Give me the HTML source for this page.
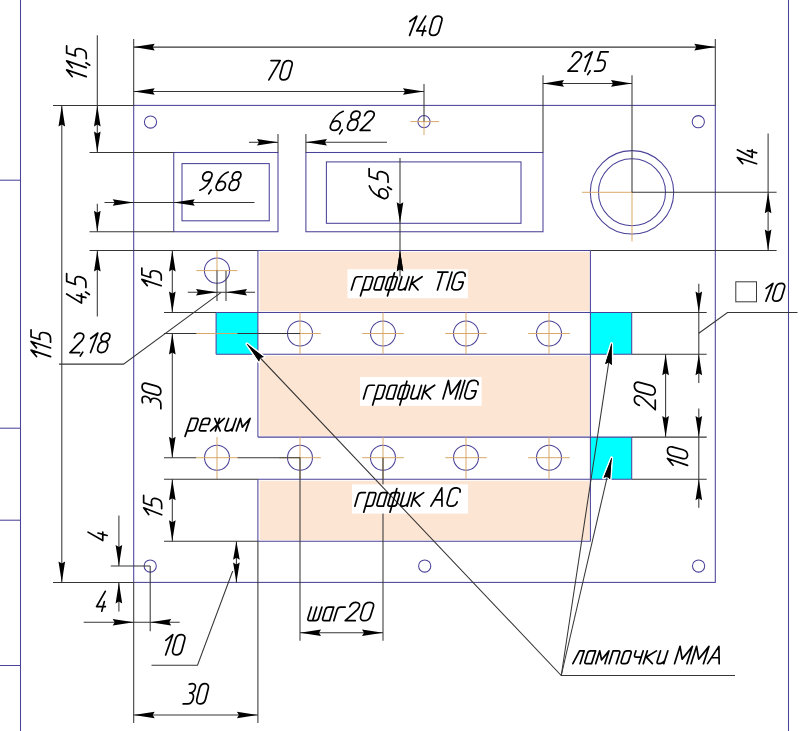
<!DOCTYPE html>
<html><head><meta charset="utf-8"><style>
html,body{margin:0;padding:0;background:#fff;}
svg{display:block;}
</style></head><body>
<svg width="800" height="731" viewBox="0 0 800 731">
<rect x="0" y="0" width="800" height="731" fill="#fff"/>
<rect x="259.70" y="252.00" width="329.80" height="59.30" fill="#fde5d3"/>
<rect x="259.70" y="355.80" width="329.80" height="80.10" fill="#fde5d3"/>
<rect x="259.70" y="480.80" width="329.80" height="59.20" fill="#fde5d3"/>
<rect x="216.10" y="312.50" width="41.80" height="41.70" fill="#00ffff"/>
<rect x="590.40" y="312.50" width="41.30" height="41.70" fill="#00ffff"/>
<rect x="590.40" y="437.10" width="41.30" height="42.10" fill="#00ffff"/>
<line x1="20.5" y1="0" x2="20.5" y2="731" stroke="#4a4298" stroke-width="1.05"/>
<line x1="0" y1="180.2" x2="20.5" y2="180.2" stroke="#4a4298" stroke-width="1.05"/>
<line x1="0" y1="428.2" x2="20.5" y2="428.2" stroke="#4a4298" stroke-width="1.05"/>
<line x1="0" y1="520.2" x2="20.5" y2="520.2" stroke="#4a4298" stroke-width="1.05"/>
<line x1="0" y1="665.5" x2="20.5" y2="665.5" stroke="#4a4298" stroke-width="1.05"/>
<line x1="788.5" y1="0" x2="788.5" y2="731" stroke="#4a4298" stroke-width="1.05"/>
<rect x="133.70" y="105.40" width="581.60" height="477.00" fill="none" stroke="#4a4298" stroke-width="1.05"/>
<circle cx="150.5" cy="122" r="6.1" fill="none" stroke="#4a4298" stroke-width="1.05"/>
<circle cx="424" cy="121.6" r="6.1" fill="none" stroke="#4a4298" stroke-width="1.05"/>
<circle cx="698.3" cy="121.7" r="6.1" fill="none" stroke="#4a4298" stroke-width="1.05"/>
<circle cx="150.2" cy="566" r="6.1" fill="none" stroke="#4a4298" stroke-width="1.05"/>
<circle cx="424.7" cy="566" r="6.1" fill="none" stroke="#4a4298" stroke-width="1.05"/>
<circle cx="698.6" cy="566" r="6.1" fill="none" stroke="#4a4298" stroke-width="1.05"/>
<rect x="173.75" y="152.50" width="104.25" height="79.25" fill="none" stroke="#4a4298" stroke-width="1.05"/>
<rect x="182.00" y="163.60" width="87.25" height="57.20" fill="none" stroke="#4a4298" stroke-width="1.05"/>
<rect x="305.90" y="152.50" width="237.10" height="79.25" fill="none" stroke="#4a4298" stroke-width="1.05"/>
<rect x="326.40" y="161.90" width="194.60" height="61.40" fill="none" stroke="#4a4298" stroke-width="1.05"/>
<circle cx="632" cy="192.3" r="41.7" fill="none" stroke="#4a4298" stroke-width="1.05"/>
<circle cx="632" cy="192.3" r="33.5" fill="none" stroke="#4a4298" stroke-width="1.05"/>
<line x1="257.9" y1="250.4" x2="257.9" y2="437.1" stroke="#4a4298" stroke-width="1.05"/>
<line x1="257.9" y1="479.2" x2="257.9" y2="541.2" stroke="#4a4298" stroke-width="1.05"/>
<line x1="590.4" y1="250.4" x2="590.4" y2="541.2" stroke="#4a4298" stroke-width="1.05"/>
<line x1="257.9" y1="250.4" x2="590.4" y2="250.4" stroke="#4a4298" stroke-width="1.05"/>
<line x1="216.1" y1="312.5" x2="631.7" y2="312.5" stroke="#4a4298" stroke-width="1.05"/>
<line x1="216.1" y1="354.2" x2="631.7" y2="354.2" stroke="#4a4298" stroke-width="1.05"/>
<line x1="216.1" y1="312.5" x2="216.1" y2="354.2" stroke="#4a4298" stroke-width="1.05"/>
<line x1="631.7" y1="312.5" x2="631.7" y2="354.2" stroke="#4a4298" stroke-width="1.05"/>
<line x1="257.9" y1="437.1" x2="631.7" y2="437.1" stroke="#4a4298" stroke-width="1.05"/>
<line x1="257.9" y1="479.2" x2="631.7" y2="479.2" stroke="#4a4298" stroke-width="1.05"/>
<line x1="631.7" y1="437.1" x2="631.7" y2="479.2" stroke="#4a4298" stroke-width="1.05"/>
<line x1="257.9" y1="541.2" x2="590.4" y2="541.2" stroke="#4a4298" stroke-width="1.05"/>
<circle cx="300.0" cy="333.5" r="12.5" fill="none" stroke="#4a4298" stroke-width="1.05"/>
<circle cx="383.0" cy="333.5" r="12.5" fill="none" stroke="#4a4298" stroke-width="1.05"/>
<circle cx="466.0" cy="333.5" r="12.5" fill="none" stroke="#4a4298" stroke-width="1.05"/>
<circle cx="549.0" cy="333.5" r="12.5" fill="none" stroke="#4a4298" stroke-width="1.05"/>
<circle cx="217.0" cy="457.7" r="12.5" fill="none" stroke="#4a4298" stroke-width="1.05"/>
<circle cx="300.0" cy="457.7" r="12.5" fill="none" stroke="#4a4298" stroke-width="1.05"/>
<circle cx="383.0" cy="457.7" r="12.5" fill="none" stroke="#4a4298" stroke-width="1.05"/>
<circle cx="466.0" cy="457.7" r="12.5" fill="none" stroke="#4a4298" stroke-width="1.05"/>
<circle cx="549.0" cy="457.7" r="12.5" fill="none" stroke="#4a4298" stroke-width="1.05"/>
<circle cx="217.0" cy="270.6" r="12.6" fill="none" stroke="#4a4298" stroke-width="1.05"/>
<line x1="196.2" y1="333.5" x2="237.8" y2="333.5" stroke="#d6a462" stroke-width="0.95"/>
<line x1="196.2" y1="457.7" x2="237.8" y2="457.7" stroke="#d6a462" stroke-width="0.95"/>
<line x1="217.0" y1="437.1" x2="217.0" y2="479.2" stroke="#d6a462" stroke-width="0.95"/>
<line x1="279.2" y1="333.5" x2="320.8" y2="333.5" stroke="#d6a462" stroke-width="0.95"/>
<line x1="300.0" y1="312.5" x2="300.0" y2="354.2" stroke="#d6a462" stroke-width="0.95"/>
<line x1="279.2" y1="457.7" x2="320.8" y2="457.7" stroke="#d6a462" stroke-width="0.95"/>
<line x1="300.0" y1="437.1" x2="300.0" y2="479.2" stroke="#d6a462" stroke-width="0.95"/>
<line x1="362.2" y1="333.5" x2="403.8" y2="333.5" stroke="#d6a462" stroke-width="0.95"/>
<line x1="383.0" y1="312.5" x2="383.0" y2="354.2" stroke="#d6a462" stroke-width="0.95"/>
<line x1="362.2" y1="457.7" x2="403.8" y2="457.7" stroke="#d6a462" stroke-width="0.95"/>
<line x1="383.0" y1="437.1" x2="383.0" y2="479.2" stroke="#d6a462" stroke-width="0.95"/>
<line x1="445.2" y1="333.5" x2="486.8" y2="333.5" stroke="#d6a462" stroke-width="0.95"/>
<line x1="466.0" y1="312.5" x2="466.0" y2="354.2" stroke="#d6a462" stroke-width="0.95"/>
<line x1="445.2" y1="457.7" x2="486.8" y2="457.7" stroke="#d6a462" stroke-width="0.95"/>
<line x1="466.0" y1="437.1" x2="466.0" y2="479.2" stroke="#d6a462" stroke-width="0.95"/>
<line x1="528.2" y1="333.5" x2="569.8" y2="333.5" stroke="#d6a462" stroke-width="0.95"/>
<line x1="549.0" y1="312.5" x2="549.0" y2="354.2" stroke="#d6a462" stroke-width="0.95"/>
<line x1="528.2" y1="457.7" x2="569.8" y2="457.7" stroke="#d6a462" stroke-width="0.95"/>
<line x1="549.0" y1="437.1" x2="549.0" y2="479.2" stroke="#d6a462" stroke-width="0.95"/>
<line x1="196.4" y1="270.6" x2="237.5" y2="270.6" stroke="#d6a462" stroke-width="0.95"/>
<line x1="217" y1="250.5" x2="217" y2="270.6" stroke="#d6a462" stroke-width="0.95"/>
<line x1="582" y1="192.3" x2="632" y2="192.3" stroke="#d6a462" stroke-width="0.95"/>
<line x1="632" y1="192.3" x2="632" y2="241.5" stroke="#d6a462" stroke-width="0.95"/>
<line x1="410.4" y1="121.6" x2="439.1" y2="121.6" stroke="#d6a462" stroke-width="0.95"/>
<line x1="424" y1="121.6" x2="424" y2="135" stroke="#d6a462" stroke-width="0.95"/>
<line x1="133.7" y1="47.1" x2="715.3" y2="47.1" stroke="#363636" stroke-width="1.05"/>
<line x1="133.7" y1="39" x2="133.7" y2="105.4" stroke="#363636" stroke-width="1.05"/>
<line x1="715.3" y1="39" x2="715.3" y2="105.4" stroke="#363636" stroke-width="1.05"/>
<polygon points="133.70,47.10 154.70,43.80 152.70,47.10 154.70,50.40" fill="#000"/>
<polygon points="715.30,47.10 694.30,50.40 696.30,47.10 694.30,43.80" fill="#000"/>
<line x1="133.7" y1="91.5" x2="424" y2="91.5" stroke="#363636" stroke-width="1.05"/>
<line x1="424" y1="84" x2="424" y2="121.6" stroke="#363636" stroke-width="1.05"/>
<polygon points="133.70,91.50 154.70,88.20 152.70,91.50 154.70,94.80" fill="#000"/>
<polygon points="424.00,91.50 403.00,94.80 405.00,91.50 403.00,88.20" fill="#000"/>
<line x1="543" y1="83.4" x2="632" y2="83.4" stroke="#363636" stroke-width="1.05"/>
<line x1="543" y1="75.2" x2="543" y2="152.5" stroke="#363636" stroke-width="1.05"/>
<line x1="632" y1="75.2" x2="632" y2="192.3" stroke="#363636" stroke-width="1.05"/>
<polygon points="543.00,83.40 564.00,80.10 562.00,83.40 564.00,86.70" fill="#000"/>
<polygon points="632.00,83.40 611.00,86.70 613.00,83.40 611.00,80.10" fill="#000"/>
<line x1="249" y1="142.3" x2="278" y2="142.3" stroke="#363636" stroke-width="1.05"/>
<line x1="305.9" y1="142.3" x2="387" y2="142.3" stroke="#363636" stroke-width="1.05"/>
<line x1="278" y1="134" x2="278" y2="152.5" stroke="#363636" stroke-width="1.05"/>
<line x1="305.9" y1="134" x2="305.9" y2="152.5" stroke="#363636" stroke-width="1.05"/>
<polygon points="278.00,142.30 257.00,145.60 259.00,142.30 257.00,139.00" fill="#000"/>
<polygon points="305.90,142.30 326.90,139.00 324.90,142.30 326.90,145.60" fill="#000"/>
<line x1="97.3" y1="35.3" x2="97.3" y2="152.5" stroke="#363636" stroke-width="1.05"/>
<line x1="53" y1="105.4" x2="133.7" y2="105.4" stroke="#363636" stroke-width="1.05"/>
<line x1="89.5" y1="152.5" x2="173.75" y2="152.5" stroke="#363636" stroke-width="1.05"/>
<polygon points="97.30,105.40 100.60,126.40 97.30,124.40 94.00,126.40" fill="#000"/>
<polygon points="97.30,152.50 94.00,131.50 97.30,133.50 100.60,131.50" fill="#000"/>
<line x1="104.5" y1="202.5" x2="254.5" y2="202.5" stroke="#363636" stroke-width="1.05"/>
<polygon points="133.70,202.50 112.70,205.80 114.70,202.50 112.70,199.20" fill="#000"/>
<polygon points="173.75,202.50 194.75,199.20 192.75,202.50 194.75,205.80" fill="#000"/>
<line x1="97.3" y1="203.7" x2="97.3" y2="231.75" stroke="#363636" stroke-width="1.05"/>
<line x1="97.3" y1="250.5" x2="97.3" y2="316.5" stroke="#363636" stroke-width="1.05"/>
<line x1="89.5" y1="231.75" x2="173.75" y2="231.75" stroke="#363636" stroke-width="1.05"/>
<line x1="89.5" y1="250.4" x2="257.9" y2="250.4" stroke="#363636" stroke-width="1.05"/>
<line x1="590.4" y1="250.4" x2="776.6" y2="250.4" stroke="#363636" stroke-width="1.05"/>
<polygon points="97.30,231.75 94.00,210.75 97.30,212.75 100.60,210.75" fill="#000"/>
<polygon points="97.30,250.50 100.60,271.50 97.30,269.50 94.00,271.50" fill="#000"/>
<line x1="61.8" y1="105.4" x2="61.8" y2="582.4" stroke="#363636" stroke-width="1.05"/>
<line x1="53" y1="582.4" x2="133.7" y2="582.4" stroke="#363636" stroke-width="1.05"/>
<polygon points="61.80,105.40 65.10,126.40 61.80,124.40 58.50,126.40" fill="#000"/>
<polygon points="61.80,582.40 58.50,561.40 61.80,563.40 65.10,561.40" fill="#000"/>
<line x1="768.1" y1="133.5" x2="768.1" y2="250.4" stroke="#363636" stroke-width="1.05"/>
<line x1="632" y1="192.3" x2="776.6" y2="192.3" stroke="#363636" stroke-width="1.05"/>
<polygon points="768.10,192.30 771.40,213.30 768.10,211.30 764.80,213.30" fill="#000"/>
<polygon points="768.10,250.40 764.80,229.40 768.10,231.40 771.40,229.40" fill="#000"/>
<line x1="172.3" y1="250.4" x2="172.3" y2="312.5" stroke="#363636" stroke-width="1.05"/>
<line x1="164" y1="312.5" x2="216.1" y2="312.5" stroke="#363636" stroke-width="1.05"/>
<polygon points="172.30,250.40 175.60,271.40 172.30,269.40 169.00,271.40" fill="#000"/>
<polygon points="172.30,312.50 169.00,291.50 172.30,293.50 175.60,291.50" fill="#000"/>
<line x1="187.8" y1="292.3" x2="255.1" y2="292.3" stroke="#363636" stroke-width="1.05"/>
<line x1="217" y1="270.6" x2="217" y2="301" stroke="#363636" stroke-width="1.05"/>
<line x1="226" y1="271" x2="226" y2="301" stroke="#363636" stroke-width="1.05"/>
<polygon points="217.00,292.30 196.00,295.60 198.00,292.30 196.00,289.00" fill="#000"/>
<polygon points="226.00,292.30 247.00,289.00 245.00,292.30 247.00,295.60" fill="#000"/>
<line x1="172.3" y1="333.5" x2="172.3" y2="457.7" stroke="#363636" stroke-width="1.05"/>
<line x1="164" y1="333.5" x2="196.4" y2="333.5" stroke="#363636" stroke-width="1.05"/>
<line x1="237.5" y1="333.5" x2="300" y2="333.5" stroke="#363636" stroke-width="1.05"/>
<line x1="164" y1="457.7" x2="196.2" y2="457.7" stroke="#363636" stroke-width="1.05"/>
<line x1="237.6" y1="457.7" x2="300" y2="457.7" stroke="#363636" stroke-width="1.05"/>
<polygon points="172.30,333.50 175.60,354.50 172.30,352.50 169.00,354.50" fill="#000"/>
<polygon points="172.30,457.70 169.00,436.70 172.30,438.70 175.60,436.70" fill="#000"/>
<line x1="172.3" y1="479.2" x2="172.3" y2="541.2" stroke="#363636" stroke-width="1.05"/>
<line x1="164" y1="479.2" x2="257.9" y2="479.2" stroke="#363636" stroke-width="1.05"/>
<line x1="164" y1="541.2" x2="257.9" y2="541.2" stroke="#363636" stroke-width="1.05"/>
<polygon points="172.30,479.20 175.60,500.20 172.30,498.20 169.00,500.20" fill="#000"/>
<polygon points="172.30,541.20 169.00,520.20 172.30,522.20 175.60,520.20" fill="#000"/>
<line x1="300" y1="457.7" x2="300" y2="640.8" stroke="#363636" stroke-width="1.05"/>
<line x1="383" y1="457.7" x2="383" y2="640.8" stroke="#363636" stroke-width="1.05"/>
<line x1="300" y1="632.7" x2="383" y2="632.7" stroke="#363636" stroke-width="1.05"/>
<polygon points="300.00,632.70 321.00,629.40 319.00,632.70 321.00,636.00" fill="#000"/>
<polygon points="383.00,632.70 362.00,636.00 364.00,632.70 362.00,629.40" fill="#000"/>
<line x1="665.6" y1="354.2" x2="665.6" y2="437.1" stroke="#363636" stroke-width="1.05"/>
<polygon points="665.60,354.20 668.90,375.20 665.60,373.20 662.30,375.20" fill="#000"/>
<polygon points="665.60,437.10 662.30,416.10 665.60,418.10 668.90,416.10" fill="#000"/>
<line x1="698.8" y1="283.7" x2="698.8" y2="382.9" stroke="#363636" stroke-width="1.05"/>
<line x1="698.8" y1="408.5" x2="698.8" y2="507.7" stroke="#363636" stroke-width="1.05"/>
<line x1="631.7" y1="312.5" x2="706.7" y2="312.5" stroke="#363636" stroke-width="1.05"/>
<line x1="631.7" y1="354.2" x2="706.7" y2="354.2" stroke="#363636" stroke-width="1.05"/>
<line x1="631.7" y1="437.1" x2="706.7" y2="437.1" stroke="#363636" stroke-width="1.05"/>
<line x1="631.7" y1="479.2" x2="706.7" y2="479.2" stroke="#363636" stroke-width="1.05"/>
<polygon points="698.80,312.50 695.50,291.50 698.80,293.50 702.10,291.50" fill="#000"/>
<polygon points="698.80,354.20 702.10,375.20 698.80,373.20 695.50,375.20" fill="#000"/>
<polygon points="698.80,437.10 695.50,416.10 698.80,418.10 702.10,416.10" fill="#000"/>
<polygon points="698.80,479.20 702.10,500.20 698.80,498.20 695.50,500.20" fill="#000"/>
<polyline points="698.8,333.3 727.5,312.5 797.5,312.5" fill="none" stroke="#363636" stroke-width="1.05"/>
<line x1="118.9" y1="515.6" x2="118.9" y2="566" stroke="#363636" stroke-width="1.05"/>
<line x1="118.9" y1="582.4" x2="118.9" y2="611.6" stroke="#363636" stroke-width="1.05"/>
<line x1="110.8" y1="566" x2="150.2" y2="566" stroke="#363636" stroke-width="1.05"/>
<polygon points="118.90,566.00 115.60,545.00 118.90,547.00 122.20,545.00" fill="#000"/>
<polygon points="118.90,582.40 122.20,603.40 118.90,601.40 115.60,603.40" fill="#000"/>
<line x1="83.7" y1="622.2" x2="179.7" y2="622.2" stroke="#363636" stroke-width="1.05"/>
<line x1="150.2" y1="566" x2="150.2" y2="631.3" stroke="#363636" stroke-width="1.05"/>
<line x1="133.7" y1="582.4" x2="133.7" y2="723" stroke="#363636" stroke-width="1.05"/>
<polygon points="133.70,622.20 112.70,625.50 114.70,622.20 112.70,618.90" fill="#000"/>
<polygon points="150.20,622.20 171.20,618.90 169.20,622.20 171.20,625.50" fill="#000"/>
<polyline points="151.5,665.3 197.5,665.3 232.7,571" fill="none" stroke="#363636" stroke-width="1.05"/>
<line x1="236.4" y1="541.2" x2="236.4" y2="582.4" stroke="#363636" stroke-width="1.05"/>
<polygon points="236.40,541.20 239.70,559.70 236.40,557.70 233.10,559.70" fill="#000"/>
<polygon points="236.40,582.40 233.10,562.40 236.40,564.40 239.70,562.40" fill="#000"/>
<line x1="133.7" y1="715" x2="257.9" y2="715" stroke="#363636" stroke-width="1.05"/>
<line x1="257.9" y1="541.2" x2="257.9" y2="723" stroke="#363636" stroke-width="1.05"/>
<polygon points="133.70,715.00 154.70,711.70 152.70,715.00 154.70,718.30" fill="#000"/>
<polygon points="257.90,715.00 236.90,718.30 238.90,715.00 236.90,711.70" fill="#000"/>
<line x1="400" y1="158" x2="400" y2="276.5" stroke="#363636" stroke-width="1.05"/>
<polygon points="400.00,223.30 396.70,202.30 400.00,204.30 403.30,202.30" fill="#000"/>
<polygon points="400.00,250.40 403.30,271.40 400.00,269.40 396.70,271.40" fill="#000"/>
<polyline points="59,364.1 123.5,364.1 221.2,292.3" fill="none" stroke="#363636" stroke-width="1.05"/>
<rect x="347.50" y="269.20" width="120.40" height="29.10" fill="#fff"/>
<rect x="360.00" y="377.00" width="121.60" height="28.80" fill="#fff"/>
<rect x="352.00" y="484.40" width="116.00" height="29.20" fill="#fff"/>
<line x1="400" y1="258" x2="400" y2="276.5" stroke="#363636" stroke-width="1.05"/>
<polygon points="400.00,250.40 403.30,271.40 400.00,269.40 396.70,271.40" fill="#000"/>
<polygon points="247.00,344.00 263.84,356.97 260.07,357.79 259.05,361.51" fill="#fff" stroke="#fff" stroke-width="3.2" stroke-linejoin="round"/>
<polygon points="247.00,344.00 263.84,356.97 260.07,357.79 259.05,361.51" fill="#000"/>
<polygon points="611.60,343.70 611.71,364.96 608.75,362.48 605.19,363.97" fill="#fff" stroke="#fff" stroke-width="3.2" stroke-linejoin="round"/>
<polygon points="611.60,343.70 611.71,364.96 608.75,362.48 605.19,363.97" fill="#000"/>
<polygon points="611.60,458.00 610.08,479.20 607.31,476.51 603.65,477.71" fill="#fff" stroke="#fff" stroke-width="3.2" stroke-linejoin="round"/>
<polygon points="611.60,458.00 610.08,479.20 607.31,476.51 603.65,477.71" fill="#000"/>
<polyline points="247,344 561.25,675.5 735,675.5" fill="none" stroke="#363636" stroke-width="1.05"/>
<line x1="611.6" y1="343.7" x2="561.25" y2="675.5" stroke="#363636" stroke-width="1.05"/>
<line x1="611.6" y1="458" x2="561.25" y2="675.5" stroke="#363636" stroke-width="1.05"/>
<polygon points="247.00,344.00 263.84,356.97 260.07,357.79 259.05,361.51" fill="#000"/>
<polygon points="611.60,343.70 611.71,364.96 608.75,362.48 605.19,363.97" fill="#000"/>
<polygon points="611.60,458.00 610.08,479.20 607.31,476.51 603.65,477.71" fill="#000"/>
<path transform="translate(411.277,16.100) scale(2.0218,1.9300) skewX(-15)" d="M 0.000 2.800 L 2.750 0.000 L 1.850 10.000 M 7.150 0.000 L 4.750 7.700 L 9.250 7.700 M 8.050 5.200 L 8.050 10.000 M 11.150 2.300 C 11.150 1.000 12.150 0.000 13.450 0.000 C 14.750 0.000 15.750 1.000 15.750 2.300 L 15.750 7.700 C 15.750 9.000 14.750 10.000 13.450 10.000 C 12.150 10.000 11.150 9.000 11.150 7.700 Z" fill="none" stroke="#000" stroke-width="1.7" vector-effect="non-scaling-stroke" stroke-linecap="round" stroke-linejoin="round"/>
<path transform="translate(271.000,60.600) scale(1.9915,1.9300) skewX(-15)" d="M 0.000 0.000 L 4.600 0.000 L 1.600 10.000 M 6.600 2.300 C 6.600 1.000 7.600 0.000 8.900 0.000 C 10.200 0.000 11.200 1.000 11.200 2.300 L 11.200 7.700 C 11.200 9.000 10.200 10.000 8.900 10.000 C 7.600 10.000 6.600 9.000 6.600 7.700 Z" fill="none" stroke="#000" stroke-width="1.7" vector-effect="non-scaling-stroke" stroke-linecap="round" stroke-linejoin="round"/>
<path transform="translate(573.341,51.850) scale(2.0120,1.9300) skewX(-15)" d="M 0.100 2.400 C 0.200 1.000 1.100 0.000 2.300 0.000 C 3.600 0.000 4.600 1.000 4.600 2.300 C 4.600 3.500 4.100 4.300 3.200 5.300 L 0.000 10.000 L 4.700 10.000 M 6.600 2.800 L 9.350 0.000 L 8.450 10.000 M 10.950 9.800 L 10.250 11.800 M 17.350 0.000 L 13.550 0.000 L 13.250 4.600 C 13.850 4.400 14.550 4.300 15.250 4.300 C 16.650 4.300 17.550 5.300 17.550 6.900 L 17.550 7.700 C 17.550 9.100 16.550 10.000 15.250 10.000 L 13.250 10.000" fill="none" stroke="#000" stroke-width="1.7" vector-effect="non-scaling-stroke" stroke-linecap="round" stroke-linejoin="round"/>
<path transform="translate(334.721,111.100) scale(2.0948,1.9300) skewX(-15)" d="M 4.100 0.100 C 2.100 0.900 0.200 3.600 0.000 7.600 C 0.000 6.200 1.000 5.100 2.300 5.100 C 3.600 5.100 4.600 6.200 4.600 7.600 C 4.600 9.000 3.600 10.000 2.300 10.000 C 1.000 10.000 0.000 9.000 0.000 7.600 M 6.200 9.800 L 5.500 11.800 M 10.500 4.400 C 9.200 4.400 8.400 3.600 8.400 2.200 C 8.400 0.900 9.200 0.000 10.500 0.000 C 11.800 0.000 12.600 0.900 12.600 2.200 C 12.600 3.600 11.800 4.400 10.500 4.400 C 9.200 4.400 8.200 5.300 8.200 7.000 L 8.200 7.600 C 8.200 9.000 9.200 10.000 10.500 10.000 C 11.800 10.000 12.800 9.000 12.800 7.600 L 12.800 7.000 C 12.800 5.300 11.800 4.400 10.500 4.400 Z M 14.900 2.400 C 15.000 1.000 15.900 0.000 17.100 0.000 C 18.400 0.000 19.400 1.000 19.400 2.300 C 19.400 3.500 18.900 4.300 18.000 5.300 L 14.800 10.000 L 19.500 10.000" fill="none" stroke="#000" stroke-width="1.7" vector-effect="non-scaling-stroke" stroke-linecap="round" stroke-linejoin="round"/>
<path transform="translate(65.800,77.500) rotate(-90) translate(2.420,0.850) scale(1.8923,1.9600) skewX(-15)" d="M 0.000 2.800 L 2.750 0.000 L 1.850 10.000 M 4.750 2.800 L 7.500 0.000 L 6.600 10.000 M 9.100 9.800 L 8.400 11.800 M 15.500 0.000 L 11.700 0.000 L 11.400 4.600 C 12.000 4.400 12.700 4.300 13.400 4.300 C 14.800 4.300 15.700 5.300 15.700 6.900 L 15.700 7.700 C 15.700 9.100 14.700 10.000 13.400 10.000 L 11.400 10.000" fill="none" stroke="#000" stroke-width="1.7" vector-effect="non-scaling-stroke" stroke-linecap="round" stroke-linejoin="round"/>
<path transform="translate(204.091,171.850) scale(1.9700,1.8550) skewX(-15)" d="M 0.500 9.900 C 2.500 9.100 4.400 6.400 4.600 2.400 C 4.600 3.800 3.600 4.900 2.300 4.900 C 1.000 4.900 0.000 3.800 0.000 2.400 C 0.000 1.000 1.000 0.000 2.300 0.000 C 3.600 0.000 4.600 1.000 4.600 2.400 M 6.200 9.800 L 5.500 11.800 M 12.300 0.100 C 10.300 0.900 8.400 3.600 8.200 7.600 C 8.200 6.200 9.200 5.100 10.500 5.100 C 11.800 5.100 12.800 6.200 12.800 7.600 C 12.800 9.000 11.800 10.000 10.500 10.000 C 9.200 10.000 8.200 9.000 8.200 7.600 M 17.100 4.400 C 15.800 4.400 15.000 3.600 15.000 2.200 C 15.000 0.900 15.800 0.000 17.100 0.000 C 18.400 0.000 19.200 0.900 19.200 2.200 C 19.200 3.600 18.400 4.400 17.100 4.400 C 15.800 4.400 14.800 5.300 14.800 7.000 L 14.800 7.600 C 14.800 9.000 15.800 10.000 17.100 10.000 C 18.400 10.000 19.400 9.000 19.400 7.600 L 19.400 7.000 C 19.400 5.300 18.400 4.400 17.100 4.400 Z" fill="none" stroke="#000" stroke-width="1.7" vector-effect="non-scaling-stroke" stroke-linecap="round" stroke-linejoin="round"/>
<path transform="translate(368.300,199.400) rotate(-90) translate(5.195,0.850) scale(2.0361,1.8900) skewX(-15)" d="M 4.100 0.100 C 2.100 0.900 0.200 3.600 0.000 7.600 C 0.000 6.200 1.000 5.100 2.300 5.100 C 3.600 5.100 4.600 6.200 4.600 7.600 C 4.600 9.000 3.600 10.000 2.300 10.000 C 1.000 10.000 0.000 9.000 0.000 7.600 M 6.200 9.800 L 5.500 11.800 M 12.600 0.000 L 8.800 0.000 L 8.500 4.600 C 9.100 4.400 9.800 4.300 10.500 4.300 C 11.900 4.300 12.800 5.300 12.800 6.900 L 12.800 7.700 C 12.800 9.100 11.800 10.000 10.500 10.000 L 8.500 10.000" fill="none" stroke="#000" stroke-width="1.7" vector-effect="non-scaling-stroke" stroke-linecap="round" stroke-linejoin="round"/>
<path transform="translate(736.500,164.600) rotate(-90) translate(2.299,0.850) scale(1.7464,1.9300) skewX(-15)" d="M 0.000 2.800 L 2.750 0.000 L 1.850 10.000 M 7.150 0.000 L 4.750 7.700 L 9.250 7.700 M 8.050 5.200 L 8.050 10.000" fill="none" stroke="#000" stroke-width="1.7" vector-effect="non-scaling-stroke" stroke-linecap="round" stroke-linejoin="round"/>
<path transform="translate(65.800,304.000) rotate(-90) translate(5.073,0.850) scale(2.0466,1.9250) skewX(-15)" d="M 2.400 0.000 L 0.000 7.700 L 4.500 7.700 M 3.300 5.200 L 3.300 10.000 M 6.000 9.800 L 5.300 11.800 M 12.400 0.000 L 8.600 0.000 L 8.300 4.600 C 8.900 4.400 9.600 4.300 10.300 4.300 C 11.700 4.300 12.600 5.300 12.600 6.900 L 12.600 7.700 C 12.600 9.100 11.600 10.000 10.300 10.000 L 8.300 10.000" fill="none" stroke="#000" stroke-width="1.7" vector-effect="non-scaling-stroke" stroke-linecap="round" stroke-linejoin="round"/>
<path transform="translate(30.200,357.500) rotate(-90) translate(2.365,0.850) scale(1.8263,1.9500) skewX(-15)" d="M 0.000 2.800 L 2.750 0.000 L 1.850 10.000 M 4.750 2.800 L 7.500 0.000 L 6.600 10.000 M 13.900 0.000 L 10.100 0.000 L 9.800 4.600 C 10.400 4.400 11.100 4.300 11.800 4.300 C 13.200 4.300 14.100 5.300 14.100 6.900 L 14.100 7.700 C 14.100 9.100 13.100 10.000 11.800 10.000 L 9.800 10.000" fill="none" stroke="#000" stroke-width="1.7" vector-effect="non-scaling-stroke" stroke-linecap="round" stroke-linejoin="round"/>
<path transform="translate(75.435,333.050) scale(2.0472,1.9500) skewX(-15)" d="M 0.100 2.400 C 0.200 1.000 1.100 0.000 2.300 0.000 C 3.600 0.000 4.600 1.000 4.600 2.300 C 4.600 3.500 4.100 4.300 3.200 5.300 L 0.000 10.000 L 4.700 10.000 M 6.200 9.800 L 5.500 11.800 M 8.200 2.800 L 10.950 0.000 L 10.050 10.000 M 15.250 4.400 C 13.950 4.400 13.150 3.600 13.150 2.200 C 13.150 0.900 13.950 0.000 15.250 0.000 C 16.550 0.000 17.350 0.900 17.350 2.200 C 17.350 3.600 16.550 4.400 15.250 4.400 C 13.950 4.400 12.950 5.300 12.950 7.000 L 12.950 7.600 C 12.950 9.000 13.950 10.000 15.250 10.000 C 16.550 10.000 17.550 9.000 17.550 7.600 L 17.550 7.000 C 17.550 5.300 16.550 4.400 15.250 4.400 Z" fill="none" stroke="#000" stroke-width="1.7" vector-effect="non-scaling-stroke" stroke-linecap="round" stroke-linejoin="round"/>
<path transform="translate(141.000,286.600) rotate(-90) translate(2.321,0.850) scale(1.7736,1.9400) skewX(-15)" d="M 0.000 2.800 L 2.750 0.000 L 1.850 10.000 M 9.150 0.000 L 5.350 0.000 L 5.050 4.600 C 5.650 4.400 6.350 4.300 7.050 4.300 C 8.450 4.300 9.350 5.300 9.350 6.900 L 9.350 7.700 C 9.350 9.100 8.350 10.000 7.050 10.000 L 5.050 10.000" fill="none" stroke="#000" stroke-width="1.7" vector-effect="non-scaling-stroke" stroke-linecap="round" stroke-linejoin="round"/>
<path transform="translate(141.200,409.600) rotate(-90) translate(5.988,0.850) scale(1.9176,1.8800) skewX(-15)" d="M 0.600 0.300 C 1.100 0.100 1.600 0.000 2.200 0.000 C 3.500 0.000 4.300 0.900 4.300 2.200 C 4.300 3.600 3.400 4.500 2.000 4.500 C 3.700 4.500 4.600 5.700 4.600 7.300 C 4.600 9.000 3.500 10.000 2.300 10.000 L 0.000 10.000 M 6.600 2.300 C 6.600 1.000 7.600 0.000 8.900 0.000 C 10.200 0.000 11.200 1.000 11.200 2.300 L 11.200 7.700 C 11.200 9.000 10.200 10.000 8.900 10.000 C 7.600 10.000 6.600 9.000 6.600 7.700 Z" fill="none" stroke="#000" stroke-width="1.7" vector-effect="non-scaling-stroke" stroke-linecap="round" stroke-linejoin="round"/>
<path transform="translate(356.811,272.100) scale(2.0380,1.7850) skewX(-15)" d="M 0.000 10.000 L 0.000 4.100 Q 0.000 2.600 1.200 2.600 L 3.360 2.600 M 5.360 13.300 L 5.360 2.600 L 7.840 2.600 Q 8.880 2.600 8.880 3.900 L 8.880 8.700 Q 8.880 10.000 7.840 10.000 L 5.360 10.000 M 14.400 2.600 L 14.400 10.000 M 14.400 2.600 L 11.920 2.600 Q 10.880 2.600 10.880 3.900 L 10.880 8.700 Q 10.880 10.000 11.920 10.000 L 14.400 10.000 M 18.610 0.400 L 18.610 13.300 M 18.610 2.600 L 17.505 2.600 Q 16.400 2.600 16.400 3.900 L 16.400 8.700 Q 16.400 10.000 17.505 10.000 L 19.715 10.000 Q 20.820 10.000 20.820 8.700 L 20.820 3.900 Q 20.820 2.600 19.715 2.600 Z M 22.820 2.600 L 22.820 8.700 Q 22.820 10.000 23.860 10.000 L 24.580 10.000 Q 25.540 10.000 26.340 8.400 M 26.340 2.600 L 26.340 10.000 M 28.340 2.600 L 28.340 10.000 M 32.740 2.600 L 28.840 6.200 L 32.740 10.000 M 39.740 0.000 L 44.740 0.000 M 42.240 0.000 L 42.240 10.000 M 46.740 0.000 L 46.740 10.000 M 53.740 2.300 C 53.740 1.000 52.740 0.000 51.340 0.000 L 51.140 0.000 C 49.740 0.000 48.740 1.000 48.740 2.400 L 48.740 7.600 C 48.740 9.000 49.740 10.000 51.140 10.000 L 51.340 10.000 C 52.740 10.000 53.740 9.000 53.740 7.600 L 53.740 5.600 L 51.540 5.600" fill="none" stroke="#000" stroke-width="1.7" vector-effect="non-scaling-stroke" stroke-linecap="round" stroke-linejoin="round"/>
<rect x="735.80" y="281.80" width="20.70" height="20.00" fill="none" stroke="#3a3a3a" stroke-width="1.0"/>
<path transform="translate(767.566,283.350) scale(1.9482,1.7800) skewX(-15)" d="M 0.000 2.800 L 2.750 0.000 L 1.850 10.000 M 4.750 2.300 C 4.750 1.000 5.750 0.000 7.050 0.000 C 8.350 0.000 9.350 1.000 9.350 2.300 L 9.350 7.700 C 9.350 9.000 8.350 10.000 7.050 10.000 C 5.750 10.000 4.750 9.000 4.750 7.700 Z" fill="none" stroke="#000" stroke-width="1.7" vector-effect="non-scaling-stroke" stroke-linecap="round" stroke-linejoin="round"/>
<path transform="translate(368.949,380.450) scale(2.0523,1.8500) skewX(-15)" d="M 0.000 10.000 L 0.000 4.100 Q 0.000 2.600 1.200 2.600 L 3.360 2.600 M 5.360 13.300 L 5.360 2.600 L 7.840 2.600 Q 8.880 2.600 8.880 3.900 L 8.880 8.700 Q 8.880 10.000 7.840 10.000 L 5.360 10.000 M 14.400 2.600 L 14.400 10.000 M 14.400 2.600 L 11.920 2.600 Q 10.880 2.600 10.880 3.900 L 10.880 8.700 Q 10.880 10.000 11.920 10.000 L 14.400 10.000 M 18.610 0.400 L 18.610 13.300 M 18.610 2.600 L 17.505 2.600 Q 16.400 2.600 16.400 3.900 L 16.400 8.700 Q 16.400 10.000 17.505 10.000 L 19.715 10.000 Q 20.820 10.000 20.820 8.700 L 20.820 3.900 Q 20.820 2.600 19.715 2.600 Z M 22.820 2.600 L 22.820 8.700 Q 22.820 10.000 23.860 10.000 L 24.580 10.000 Q 25.540 10.000 26.340 8.400 M 26.340 2.600 L 26.340 10.000 M 28.340 2.600 L 28.340 10.000 M 32.740 2.600 L 28.840 6.200 L 32.740 10.000 M 38.740 10.000 L 38.740 0.000 L 41.740 7.400 L 44.740 0.000 L 44.740 10.000 M 46.740 0.000 L 46.740 10.000 M 53.740 2.300 C 53.740 1.000 52.740 0.000 51.340 0.000 L 51.140 0.000 C 49.740 0.000 48.740 1.000 48.740 2.400 L 48.740 7.600 C 48.740 9.000 49.740 10.000 51.140 10.000 L 51.340 10.000 C 52.740 10.000 53.740 9.000 53.740 7.600 L 53.740 5.600 L 51.540 5.600" fill="none" stroke="#000" stroke-width="1.7" vector-effect="non-scaling-stroke" stroke-linecap="round" stroke-linejoin="round"/>
<path transform="translate(192.673,414.093) scale(2.1391,1.6757) skewX(-15)" d="M 0.000 13.300 L 0.000 2.600 L 2.480 2.600 Q 3.520 2.600 3.520 3.900 L 3.520 8.700 Q 3.520 10.000 2.480 10.000 L 0.000 10.000 M 5.520 6.200 L 9.040 6.200 L 9.040 3.900 Q 9.040 2.600 8.000 2.600 L 6.560 2.600 Q 5.520 2.600 5.520 3.900 L 5.520 8.700 Q 5.520 10.000 6.560 10.000 L 8.880 10.000 M 13.280 2.600 L 13.280 10.000 M 11.040 2.600 L 13.280 6.300 L 15.520 2.600 M 11.040 10.000 L 13.280 6.300 L 15.520 10.000 M 17.520 2.600 L 17.520 8.700 Q 17.520 10.000 18.560 10.000 L 19.280 10.000 Q 20.240 10.000 21.040 8.400 M 21.040 2.600 L 21.040 10.000 M 23.040 10.000 L 23.040 2.600 L 25.280 7.800 L 27.520 2.600 L 27.520 10.000" fill="none" stroke="#000" stroke-width="1.7" vector-effect="non-scaling-stroke" stroke-linecap="round" stroke-linejoin="round"/>
<path transform="translate(633.500,410.600) rotate(-90) translate(6.390,0.850) scale(2.0675,2.0900) skewX(-15)" d="M 0.100 2.400 C 0.200 1.000 1.100 0.000 2.300 0.000 C 3.600 0.000 4.600 1.000 4.600 2.300 C 4.600 3.500 4.100 4.300 3.200 5.300 L 0.000 10.000 L 4.700 10.000 M 6.600 2.300 C 6.600 1.000 7.600 0.000 8.900 0.000 C 10.200 0.000 11.200 1.000 11.200 2.300 L 11.200 7.700 C 11.200 9.000 10.200 10.000 8.900 10.000 C 7.600 10.000 6.600 9.000 6.600 7.700 Z" fill="none" stroke="#000" stroke-width="1.7" vector-effect="non-scaling-stroke" stroke-linecap="round" stroke-linejoin="round"/>
<path transform="translate(666.600,466.200) rotate(-90) translate(2.449,0.850) scale(1.9275,2.0100) skewX(-15)" d="M 0.000 2.800 L 2.750 0.000 L 1.850 10.000 M 4.750 2.300 C 4.750 1.000 5.750 0.000 7.050 0.000 C 8.350 0.000 9.350 1.000 9.350 2.300 L 9.350 7.700 C 9.350 9.000 8.350 10.000 7.050 10.000 C 5.750 10.000 4.750 9.000 4.750 7.700 Z" fill="none" stroke="#000" stroke-width="1.7" vector-effect="non-scaling-stroke" stroke-linecap="round" stroke-linejoin="round"/>
<path transform="translate(360.165,487.850) scale(1.9835,1.8300) skewX(-15)" d="M 0.000 10.000 L 0.000 4.100 Q 0.000 2.600 1.200 2.600 L 3.360 2.600 M 5.360 13.300 L 5.360 2.600 L 7.840 2.600 Q 8.880 2.600 8.880 3.900 L 8.880 8.700 Q 8.880 10.000 7.840 10.000 L 5.360 10.000 M 14.400 2.600 L 14.400 10.000 M 14.400 2.600 L 11.920 2.600 Q 10.880 2.600 10.880 3.900 L 10.880 8.700 Q 10.880 10.000 11.920 10.000 L 14.400 10.000 M 18.610 0.400 L 18.610 13.300 M 18.610 2.600 L 17.505 2.600 Q 16.400 2.600 16.400 3.900 L 16.400 8.700 Q 16.400 10.000 17.505 10.000 L 19.715 10.000 Q 20.820 10.000 20.820 8.700 L 20.820 3.900 Q 20.820 2.600 19.715 2.600 Z M 22.820 2.600 L 22.820 8.700 Q 22.820 10.000 23.860 10.000 L 24.580 10.000 Q 25.540 10.000 26.340 8.400 M 26.340 2.600 L 26.340 10.000 M 28.340 2.600 L 28.340 10.000 M 32.740 2.600 L 28.840 6.200 L 32.740 10.000 M 38.340 10.000 L 41.140 0.000 L 43.940 10.000 M 39.340 6.600 L 42.940 6.600 M 50.940 2.300 C 50.940 1.000 49.940 0.000 48.540 0.000 L 48.340 0.000 C 46.940 0.000 45.940 1.000 45.940 2.400 L 45.940 7.600 C 45.940 9.000 46.940 10.000 48.340 10.000 L 48.540 10.000 C 49.940 10.000 50.940 9.000 50.940 7.700" fill="none" stroke="#000" stroke-width="1.7" vector-effect="non-scaling-stroke" stroke-linecap="round" stroke-linejoin="round"/>
<path transform="translate(142.800,515.600) rotate(-90) translate(2.454,0.850) scale(1.9340,1.8000) skewX(-15)" d="M 0.000 2.800 L 2.750 0.000 L 1.850 10.000 M 9.150 0.000 L 5.350 0.000 L 5.050 4.600 C 5.650 4.400 6.350 4.300 7.050 4.300 C 8.450 4.300 9.350 5.300 9.350 6.900 L 9.350 7.700 C 9.350 9.100 8.350 10.000 7.050 10.000 L 5.050 10.000" fill="none" stroke="#000" stroke-width="1.7" vector-effect="non-scaling-stroke" stroke-linecap="round" stroke-linejoin="round"/>
<path transform="translate(87.200,541.400) rotate(-90) translate(4.747,0.850) scale(1.8889,1.9100) skewX(-15)" d="M 2.400 0.000 L 0.000 7.700 L 4.500 7.700 M 3.300 5.200 L 3.300 10.000" fill="none" stroke="#000" stroke-width="1.7" vector-effect="non-scaling-stroke" stroke-linecap="round" stroke-linejoin="round"/>
<path transform="translate(100.585,591.350) scale(1.9556,1.9800) skewX(-15)" d="M 2.400 0.000 L 0.000 7.700 L 4.500 7.700 M 3.300 5.200 L 3.300 10.000" fill="none" stroke="#000" stroke-width="1.7" vector-effect="non-scaling-stroke" stroke-linecap="round" stroke-linejoin="round"/>
<path transform="translate(167.309,634.650) scale(2.0001,2.0300) skewX(-15)" d="M 0.000 2.800 L 2.750 0.000 L 1.850 10.000 M 4.750 2.300 C 4.750 1.000 5.750 0.000 7.050 0.000 C 8.350 0.000 9.350 1.000 9.350 2.300 L 9.350 7.700 C 9.350 9.000 8.350 10.000 7.050 10.000 C 5.750 10.000 4.750 9.000 4.750 7.700 Z" fill="none" stroke="#000" stroke-width="1.7" vector-effect="non-scaling-stroke" stroke-linecap="round" stroke-linejoin="round"/>
<path transform="translate(312.988,602.350) scale(2.1300,1.8300) skewX(-15)" d="M 0.000 2.600 L 0.000 8.700 Q 0.000 10.000 1.105 10.000 L 3.825 10.000 Q 4.930 10.000 4.930 8.700 L 4.930 2.600 M 2.465 2.600 L 2.465 10.000 M 10.450 2.600 L 10.450 10.000 M 10.450 2.600 L 7.970 2.600 Q 6.930 2.600 6.930 3.900 L 6.930 8.700 Q 6.930 10.000 7.970 10.000 L 10.450 10.000 M 12.450 10.000 L 12.450 4.100 Q 12.450 2.600 13.650 2.600 L 15.810 2.600 M 17.910 2.400 C 18.010 1.000 18.910 0.000 20.110 0.000 C 21.410 0.000 22.410 1.000 22.410 2.300 C 22.410 3.500 21.910 4.300 21.010 5.300 L 17.810 10.000 L 22.510 10.000 M 24.410 2.300 C 24.410 1.000 25.410 0.000 26.710 0.000 C 28.010 0.000 29.010 1.000 29.010 2.300 L 29.010 7.700 C 29.010 9.000 28.010 10.000 26.710 10.000 C 25.410 10.000 24.410 9.000 24.410 7.700 Z" fill="none" stroke="#000" stroke-width="1.7" vector-effect="non-scaling-stroke" stroke-linecap="round" stroke-linejoin="round"/>
<path transform="translate(188.228,683.650) scale(1.8952,2.0300) skewX(-15)" d="M 0.600 0.300 C 1.100 0.100 1.600 0.000 2.200 0.000 C 3.500 0.000 4.300 0.900 4.300 2.200 C 4.300 3.600 3.400 4.500 2.000 4.500 C 3.700 4.500 4.600 5.700 4.600 7.300 C 4.600 9.000 3.500 10.000 2.300 10.000 L 0.000 10.000 M 6.600 2.300 C 6.600 1.000 7.600 0.000 8.900 0.000 C 10.200 0.000 11.200 1.000 11.200 2.300 L 11.200 7.700 C 11.200 9.000 10.200 10.000 8.900 10.000 C 7.600 10.000 6.600 9.000 6.600 7.700 Z" fill="none" stroke="#000" stroke-width="1.7" vector-effect="non-scaling-stroke" stroke-linecap="round" stroke-linejoin="round"/>
<path transform="translate(578.387,646.350) scale(2.0664,1.7300) skewX(-15)" d="M 0.000 10.000 L 1.280 2.600 L 3.520 2.600 L 3.520 10.000 M 9.040 2.600 L 9.040 10.000 M 9.040 2.600 L 6.560 2.600 Q 5.520 2.600 5.520 3.900 L 5.520 8.700 Q 5.520 10.000 6.560 10.000 L 9.040 10.000 M 11.040 10.000 L 11.040 2.600 L 13.280 7.800 L 15.520 2.600 L 15.520 10.000 M 17.520 10.000 L 17.520 2.600 L 20.000 2.600 Q 21.040 2.600 21.040 3.900 L 21.040 10.000 M 24.240 2.600 L 25.360 2.600 Q 26.560 2.600 26.560 4.100 L 26.560 8.500 Q 26.560 10.000 25.360 10.000 L 24.240 10.000 Q 23.040 10.000 23.040 8.500 L 23.040 4.100 Q 23.040 2.600 24.240 2.600 Z M 28.560 2.600 L 28.560 4.900 Q 28.560 6.200 29.600 6.200 L 32.080 6.200 M 32.080 2.600 L 32.080 10.000 M 34.080 2.600 L 34.080 10.000 M 38.480 2.600 L 34.580 6.200 L 38.480 10.000 M 40.480 2.600 L 40.480 8.700 Q 40.480 10.000 41.520 10.000 L 42.240 10.000 Q 43.200 10.000 44.000 8.400 M 44.000 2.600 L 44.000 10.000 M 49.200 10.000 L 49.200 0.000 L 52.200 7.400 L 55.200 0.000 L 55.200 10.000 M 57.200 10.000 L 57.200 0.000 L 60.200 7.400 L 63.200 0.000 L 63.200 10.000 M 65.200 10.000 L 68.000 0.000 L 70.800 10.000 M 66.200 6.600 L 69.800 6.600" fill="none" stroke="#000" stroke-width="1.7" vector-effect="non-scaling-stroke" stroke-linecap="round" stroke-linejoin="round"/>
</svg>
</body></html>
